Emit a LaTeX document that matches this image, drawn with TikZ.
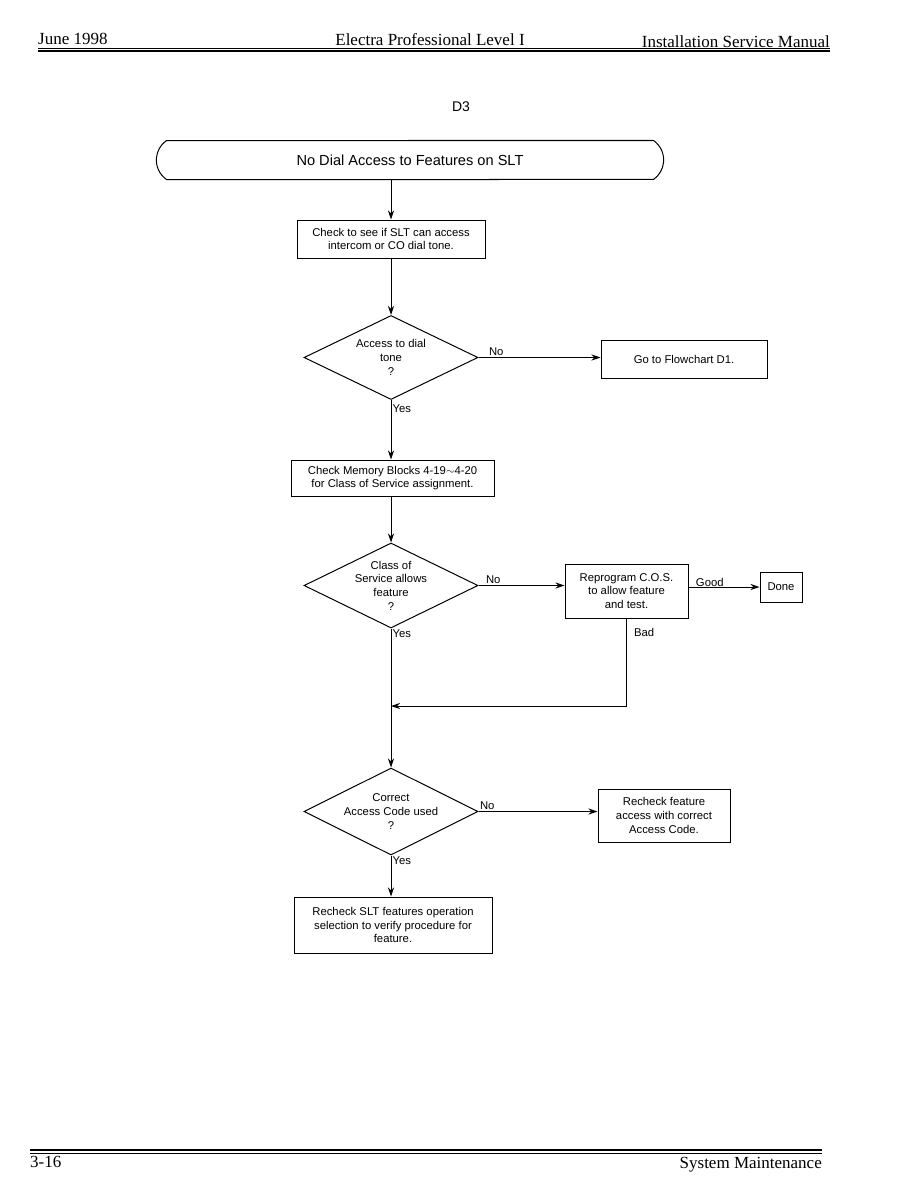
\documentclass[tikz,border=0pt]{standalone}
\usepackage{fontspec}
\setmainfont{Liberation Serif}
\newfontfamily\chartfont{Liberation Sans}
\usetikzlibrary{shapes,arrows,arrows.meta,positioning,calc}

\begin{document}
\begin{tikzpicture}[
    x=1pt, y=-1pt,
    font=\chartfont\fontsize{11.3}{13.6}\selectfont,
    box/.style={rectangle, draw, line width=1pt, align=center, inner sep=2pt},
    decide/.style={diamond, draw, line width=1pt, inner sep=0pt, minimum width=174pt, minimum height=84pt},
    lbl/.style={inner sep=1pt, font=\chartfont\fontsize{11.3}{13}\selectfont},
    pagetext/.style={font=\fontsize{17}{19}\selectfont},
    arrow/.style={-{Stealth[length=9pt,width=6pt,inset=3pt]}, line width=1pt}
]
    \useasboundingbox (0,0) rectangle (918,1188);

    % page header
    \node[pagetext, anchor=base west, inner sep=0pt] (hdate) at (38,45) {June 1998};
    \node[pagetext, anchor=base] (htitle) at (430,46) {Electra Professional Level I};
    \node[pagetext, anchor=base east, inner sep=0pt] (hman) at (830,48) {Installation Service Manual};
    \draw[line width=0.6pt] (38,48) -- (830,48);
    \draw[line width=1.8pt] (38,51) -- (830,51);

    \node[font=\chartfont\fontsize{14}{16}\selectfont] (chart) at (461,107) {D3};

    \node[rounded rectangle, rounded rectangle arc length=110, draw, line width=1pt, minimum width=514pt, minimum height=39pt,
        font=\chartfont\fontsize{14.6}{16}\selectfont] (start) at (410,160) {No Dial Access to Features on SLT};
    \node[box, minimum width=188pt, minimum height=38pt] (check) at (391,239) {Check to see if SLT can access\\intercom or CO dial tone.};
    \node[decide, label={[align=center]center:Access to dial\\tone\\?}] (tone) at (391,357.5) {};
    \node[box, minimum width=166pt, minimum height=38pt] (gotod) at (684,359) {Go to Flowchart D1.};
    \node[box, minimum width=203pt, minimum height=36pt] (memory) at (392.5,478) {Check Memory Blocks 4-19$\sim$4-20\\for Class of Service assignment.};
    \node[decide, minimum height=85pt, label={[align=center]center:Class of\\Service allows\\feature\\?}] (cos) at (391,585.5) {};
    \node[box, minimum width=123pt, minimum height=54pt] (reprog) at (626.5,591) {Reprogram C.O.S.\\to allow feature\\and test.};
    \node[box, minimum width=42pt, minimum height=30pt] (done) at (781,587) {Done};
    \coordinate (join) at (391,706);
    \node[decide, minimum height=87pt, label={[align=center]center:Correct\\Access Code used\\?}] (code) at (391,811.5) {};
    \node[box, minimum width=132pt, minimum height=53pt] (recheck) at (664,815.5) {Recheck feature\\access with correct\\Access Code.};
    \node[box, minimum width=198pt, minimum height=56pt] (verify) at (393,925) {Recheck SLT features operation\\selection to verify procedure for\\feature.};

    \draw[arrow] (start.south -| check) -- (check.north);
    \draw[arrow] (check) -- (tone);
    \draw[arrow] (tone.east) -- node[lbl, pos=0, above right, xshift=9pt] {No} (tone.east -| gotod.west);
    \draw[arrow] (tone.south) -- node[lbl, pos=0, below right, yshift=-3pt] {Yes} (tone.south |- memory.north);
    \draw[arrow] (memory.south -| cos) -- (cos.north);
    \draw[arrow] (cos.east) -- node[lbl, pos=0, above right, xshift=6pt] {No} (cos.east -| reprog.west);
    \draw[arrow] (reprog.east |- done) -- node[lbl, pos=0.3, above, yshift=-1pt] {Good} (done.west);
    \draw[arrow] (reprog.south) -- node[lbl, pos=0.16, right=6pt] {Bad} (reprog.south |- join) -- (join);
    \draw[arrow] (cos.south) -- node[lbl, pos=0, below right] {Yes} (code.north);
    \draw[arrow] (code.east) -- node[lbl, pos=0, above right] {No} (code.east -| recheck.west);
    \draw[arrow] (code.south) -- node[lbl, pos=0, below right] {Yes} (code.south |- verify.north);

    % page footer
    \draw[line width=1.8pt] (30,1150) -- (822,1150);
    \draw[line width=0.6pt] (30,1153.5) -- (822,1153.5);
    \node[pagetext, anchor=base west, inner sep=0pt] (pnum) at (30,1167) {3-16};
    \node[pagetext, anchor=base east, inner sep=0pt] (psect) at (822,1168) {System Maintenance};
\end{tikzpicture}
\end{document}
